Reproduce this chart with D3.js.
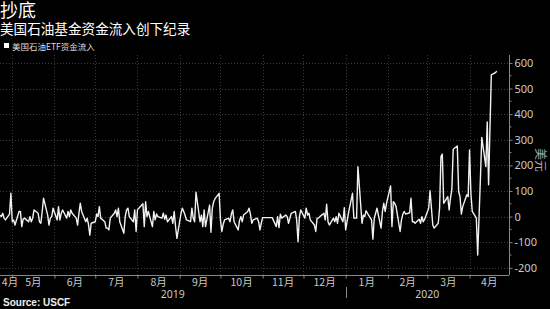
<!DOCTYPE html>
<html><head><meta charset="utf-8">
<script src="https://cdn.jsdelivr.net/npm/d3@7"></script>
<style>
body{margin:0;background:#000;}
svg{display:block;font-family:"Noto Sans CJK SC","Noto Sans",sans-serif;}
</style>
</head><body><svg id="c" width="550" height="309"></svg>
<script>
const title = "抄底";
const subtitle = "美国石油基金资金流入创下纪录";
const seriesName = "美国石油ETF资金流入";
const unitLabel = "美元";
const sourceText = "Source: USCF";
const firstDay = [2019, 3, 22];           // first trading day of the series (Apr 22, 2019)
const axisStart = [2019, 3, 22];
const axisEnd = [2020, 3, 30];
// daily fund flows (million USD), trading days Apr 22 2019 – Aug 30 2019
const flowsA = [5,0,13,-6,-13,10,91,-20,-13,-33,20,20,-39,-10,-6,-20,0,-20,-6,26,
  13,-20,-26,20,72,6,-33,-6,0,33,-13,39,-13,13,26,-6,20,0,26,13,
  -6,-33,13,52,20,-20,-6,-30,-72,-26,-20,10,0,39,-6,-20,-45,-45,-52,-6,
  13,26,0,33,-20,-65,0,26,33,0,-20,26,-58,26,33,50,-39,58,0,20,
  -39,20,-13,10,0,-6,13,-10,6,-20,0,-26,20,-39,-85];
// Sep 2 2019 – Jan 3 2020
const flowsB = [13,33,20,5,-13,-20,33,-6,-20,95,-20,6,-39,26,-39,45,-61,33,58,70,
  91,-13,-58,-30,-13,-6,-20,10,26,-20,-52,-15,0,-20,6,20,33,10,-26,-13,
  -6,-20,-52,-25,-4,-4,-4,-4,-4,-4,-39,0,-43,9,-6,6,0,-26,-6,13,
  20,-13,-98,0,26,-6,33,6,13,-13,-33,-58,-6,-6,0,13,-13,48,-20,-33,
  -6,-20,0,-26,13,-20,35,-52,-20,13];
// Jan 6 2020 – Apr 21 2020
const flowsC = [91,-6,-6,-6,195,-26,6,0,23,13,-13,-88,-6,13,33,-45,20,52,20,52,
  120,-39,58,52,39,-58,-13,10,20,10,15,72,-20,-20,-26,-10,-26,0,-20,-10,
  33,101,33,-33,-45,-26,33,234,244,52,78,26,72,104,263,276,98,78,10,39,
  85,78,260,91,20,-6,-150,0,150,309,195,370,124,340,553,562,568];
const yTicks = [-200,-100,0,100,200,300,400,500,600];
const monthLabels = ["4月","5月","6月","7月","8月","9月","10月","11月","12月","1月","2月","3月","4月"];
const yearLabels = ["2019","2020"];

const values = flowsA.concat(flowsB, flowsC);
const dates = [];
{
  let d = new Date(firstDay[0], firstDay[1], firstDay[2]);
  while (dates.length < values.length) {
    const wd = d.getDay();
    if (wd !== 0 && wd !== 6) dates.push(new Date(d));
    d = d3.timeDay.offset(d, 1);
  }
}
const data = values.map((v, i) => ({date: dates[i], value: v}));

const svg = d3.select("#c");
const d0 = new Date(...axisStart), d1 = new Date(...axisEnd);
const x = d3.scaleTime().domain([d0, d1]).range([0, 509]);
const y = d3.scaleLinear().domain([-228, 631]).range([275, 55]);

svg.append("rect").attr("width", 550).attr("height", 309).attr("fill", "#000");

// titles
svg.append("text").attr("x", 0).attr("y", 17).attr("fill", "#fff")
  .attr("font-size", 18).text(title);
svg.append("text").attr("x", 0).attr("y", 34).attr("fill", "#fff")
  .attr("font-size", 13.6).text(subtitle);
svg.append("rect").attr("x", 4).attr("y", 43).attr("width", 5).attr("height", 5).attr("fill", "#fff");
svg.append("text").attr("x", 12).attr("y", 49.5).attr("fill", "#ddd")
  .attr("font-size", 8.5).text(seriesName);

// grid
const monthStarts = d3.timeMonth.range(d3.timeMonth.ceil(d0), d1);
const grid = svg.append("g").attr("stroke", "#3c3c3c").attr("stroke-dasharray", "1,2").attr("stroke-width", 1);
grid.selectAll("line.v").data(monthStarts).join("line")
  .attr("x1", d => Math.round(x(d)) + 0.5).attr("x2", d => Math.round(x(d)) + 0.5)
  .attr("y1", 55).attr("y2", 275);
grid.selectAll("line.h").data(yTicks).join("line")
  .attr("x1", 0).attr("x2", 509)
  .attr("y1", d => Math.round(y(d)) + 0.5).attr("y2", d => Math.round(y(d)) + 0.5);

// line
svg.append("path").datum(data)
  .attr("fill", "none").attr("stroke", "#f2f2f2").attr("stroke-width", 1.4)
  .attr("stroke-linejoin", "round")
  .attr("d", d3.line().x(d => x(d.date)).y(d => y(d.value)));

// right axis
const yAxis = d3.axisRight(y).tickValues(yTicks).tickSize(3).tickPadding(2)
  .tickFormat(d => d < 0 ? "-" + Math.abs(d) : String(d));
const ya = svg.append("g").attr("transform", "translate(509.5,0)").call(yAxis);
ya.select(".domain").attr("stroke", "#888").attr("d", "M0,55V275");
ya.selectAll(".tick line").attr("stroke", "#888");
ya.selectAll(".tick text").attr("fill", "#c8c8c8").attr("font-size", 11)
  .attr("font-family", "'Liberation Sans Narrow','Noto Sans',sans-serif");
const minor = d3.range(-200, 650, 50).filter(v => v % 100 !== 0);
ya.selectAll("line.minor").data(minor).join("line").attr("class", "minor")
  .attr("x1", 0).attr("x2", 2).attr("y1", d => y(d)).attr("y2", d => y(d)).attr("stroke", "#888");

svg.append("text")
  .attr("transform", "translate(540,160) rotate(90)")
  .attr("text-anchor", "middle").attr("dy", "0.35em")
  .attr("fill", "#aaa").attr("font-size", 12).text(unitLabel);

// bottom axis
const xa = svg.append("g").attr("transform", "translate(0,275.5)")
  .call(d3.axisBottom(x).tickValues(monthStarts).tickSize(3).tickFormat(""));
xa.select(".domain").attr("stroke", "#888").attr("d", "M0,0H509");
xa.selectAll(".tick line").attr("stroke", "#888");

const allMonths = d3.timeMonth.range(d3.timeMonth.floor(d0), d1);
svg.append("g").selectAll("text").data(allMonths).join("text")
  .attr("x", (m, i) => {
    const a = Math.max(x(m), x(d0));
    const b = Math.min(x(d3.timeMonth.offset(m, 1)), x(d1));
    return Math.max((a + b) / 2, 10);
  })
  .attr("y", 286).attr("text-anchor", "middle")
  .attr("fill", "#c8c8c8").attr("font-size", 10.5)
  .text((m, i) => monthLabels[i]);

const ny = new Date(2020, 0, 1);
const yearSpans = [[d0, ny], [ny, d1]];
svg.append("g").selectAll("text").data(yearSpans).join("text")
  .attr("x", s => (x(s[0]) + x(s[1])) / 2).attr("y", 298).attr("text-anchor", "middle")
  .attr("fill", "#c8c8c8").attr("font-size", 10.5)
  .attr("font-family", "'Liberation Sans Narrow','Noto Sans',sans-serif")
  .text((s, i) => yearLabels[i]);
svg.append("line").attr("x1", Math.round(x(ny)) + 0.5).attr("x2", Math.round(x(ny)) + 0.5)
  .attr("y1", 287).attr("y2", 298).attr("stroke", "#888");

svg.append("text").attr("x", 3).attr("y", 306).attr("fill", "#eee")
  .attr("font-size", 10).attr("font-weight", "bold")
  .attr("font-family", "'Liberation Sans','Noto Sans',sans-serif").text(sourceText);
</script>
</body></html>
